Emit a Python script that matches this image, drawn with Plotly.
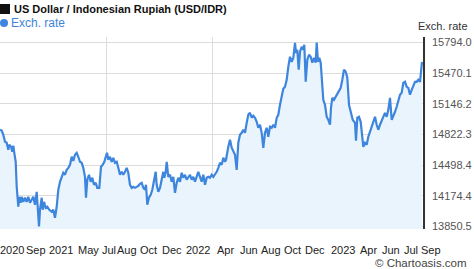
import plotly.graph_objects as go

# time position (chart time units, 0 = start of period, 423 = end) and USD/IDR rate
t = [0, 1.7, 3.3, 5, 6.7, 8.3, 9.3, 11, 12.3, 13.3, 14.3, 15.7, 16.7, 17.3, 18.3, 19.3, 20.7, 21.7, 23.3, 25,
     26.7, 28.3, 30, 31.7, 33.3, 35, 36.7, 37.7, 39, 40, 41.7, 42.7, 44, 45.7, 47.3, 49.3, 51.7, 53.3, 55, 56.7,
     58.3, 60, 61.7, 63.3, 65, 66.7, 68.3, 70, 71.7, 73.3, 75, 76.7, 78.3, 80, 81.7, 83.3, 85, 86, 87.3, 89,
     90.7, 92.3, 94, 95.7, 97.3, 99.3, 101, 102.7, 104.3, 106, 107, 108.3, 110, 111.7, 113.3, 115, 116.7, 118.3, 120, 121.7,
     123.3, 125, 126.7, 128.3, 130, 131.7, 133.3, 135, 136.7, 138.3, 140, 141.7, 143.3, 145, 146, 147.3, 149, 150.7, 152.3, 154,
     155.7, 156.7, 158.3, 160, 161.7, 163.3, 164.3, 165.7, 166.7, 168.3, 170, 171.7, 173.3, 175, 176.7, 178.3, 180, 181.7, 183.3, 185,
     186.7, 188.3, 190, 191.7, 193.3, 195, 196.7, 198.3, 200, 201.7, 203.3, 205, 206.7, 208.3, 210, 211.7, 213.3, 215, 216.7, 218.3,
     220, 221.7, 223.3, 225, 226, 228.3, 230, 231.7, 233.3, 235, 236.7, 238.3, 240, 241.7, 243.3, 245, 246.7, 248.3, 250, 251.7,
     253.3, 255, 256.7, 258.3, 260, 261.7, 263.3, 265, 266.7, 268.3, 270, 271.7, 273.3, 275, 276.7, 278.3, 280, 281.7, 283.3, 285,
     286.7, 288.3, 290, 291.7, 293.3, 295, 296, 297.3, 298.7, 300, 301.7, 303.3, 304.3, 305.7, 307.3, 309, 310.7, 312.3, 314, 315.7,
     316.7, 318, 319.3, 320.7, 322, 323.3, 325, 326.7, 328.3, 330, 331, 332.3, 334, 335.7, 337.3, 339, 340.7, 342.3, 344, 345.7,
     347.3, 349, 350.7, 352.7, 355, 356, 357.3, 359, 360.7, 362.3, 363.3, 365, 366.7, 368.3, 370, 371.7, 373.3, 375, 376.7, 378.3,
     380, 381.7, 383.3, 385, 386.7, 388.3, 390, 391.7, 393.3, 395, 396.7, 398.3, 400, 401.7, 403.3, 405, 406.7, 408.3, 410, 411.7,
     413.3, 415, 416.7, 418.3, 420, 421, 422]

rate = [14872, 14864, 14819, 14745, 14735, 14661, 14713, 14692, 14640, 14703, 14629, 14534, 14270, 14133, 14059, 14164, 14101, 14164, 14111, 14154,
        14111, 14164, 14101, 14133, 14164, 14080, 14217, 14059, 13851, 14027, 14154, 14027, 14111, 14048, 14059, 14027, 14006, 14027, 13942, 14059,
        14238, 14323, 14365, 14418, 14397, 14449, 14470, 14502, 14587, 14544, 14608, 14629, 14587, 14534, 14523, 14470, 14375, 14154, 14344, 14397,
        14323, 14365, 14291, 14312, 14259, 14259, 14481, 14502, 14534, 14587, 14629, 14555, 14587, 14534, 14576, 14523, 14534, 14470, 14397, 14428,
        14397, 14428, 14470, 14418, 14291, 14259, 14270, 14259, 14270, 14280, 14301, 14312, 14259, 14238, 14291, 14080, 14154, 14185, 14238, 14323,
        14428, 14291, 14217, 14259, 14344, 14428, 14365, 14428, 14534, 14375, 14397, 14323, 14375, 14206, 14312, 14365, 14323, 14418, 14365, 14397,
        14344, 14375, 14397, 14344, 14375, 14323, 14375, 14428, 14375, 14323, 14397, 14291, 14365, 14375, 14365, 14397, 14375, 14397, 14428, 14470,
        14523, 14502, 14576, 14534, 14555, 14692, 14766, 14682, 14640, 14608, 14449, 14735, 14819, 14840, 14872, 14840, 14946, 15030, 15051, 14999,
        15020, 14999, 14956, 14893, 14925, 14840, 14682, 14840, 14893, 14798, 14904, 14893, 14925, 14893, 14999, 15030, 15136, 15220, 15305, 15326,
        15400, 15537, 15643, 15590, 15632, 15791, 15685, 15717, 15506, 15696, 15749, 15717, 15770, 15379, 15611, 15664, 15643, 15580, 15632, 15580,
        15794, 15590, 15632, 15580, 15400, 15189, 15136, 15009, 14977, 14925, 15104, 15210, 15189, 15220, 15242, 15273, 15315, 15400, 15506, 15485,
        15421, 15136, 15062, 14977, 14946, 14756, 14999, 15009, 14956, 14798, 14692, 14735, 14713, 14798, 14851, 14904, 14956, 15009, 14925, 14872,
        14925, 14977, 15009, 15051, 15009, 15083, 15210, 14977, 15030, 15062, 15115, 15168, 15242, 15263, 15368, 15379, 15326, 15315, 15242, 15294,
        15347, 15379, 15379, 15400, 15379, 15506, 15590]

y_ticks = [13850.5, 14174.4, 14498.4, 14822.3, 15146.2, 15470.1, 15794.0]
y_tick_text = ["13850.5", "14174.4", "14498.4", "14822.3", "15146.2", "15470.1", "15794.0"]

x_labels = ["2020", "Sep", "2021", "May", "Jul", "Aug", "Oct", "Dec", "2022", "Apr",
            "Jun", "Aug", "Oct", "Dec", "2023", "Apr", "Jun", "Jul", "Sep"]
x_label_pos = [12.3, 36, 61, 88.5, 109, 126.5, 148.5, 171.5, 197.5, 225.5,
               248.5, 270.5, 292.5, 315, 343, 368.5, 391, 410.5, 430.5]
x_grid = [0, 106, 212]

LINE = "#3d85dd"
FILL = "#eaf4fd"
FONT = "Liberation Sans, Arial, sans-serif"
X_END = 423
W, H = 474, 269
MT, MB = 37, 40

fig = go.Figure()
fig.add_trace(go.Scatter(
    x=t, y=rate, mode="lines",
    line=dict(color=LINE, width=2.2),
    fill="tozeroy", fillcolor=FILL,
    hoverinfo="skip", showlegend=False,
))

fig.update_layout(
    width=W, height=H,
    margin=dict(l=0, r=W - X_END, t=MT, b=MB),
    paper_bgcolor="white", plot_bgcolor="white",
    font=dict(family=FONT, size=11, color="#333"),
    xaxis=dict(
        range=[0, X_END], showgrid=True, gridcolor="#dcdcdc", gridwidth=1,
        tickvals=x_grid, showticklabels=False, ticks="", zeroline=False,
        showline=False, fixedrange=True,
    ),
    yaxis=dict(
        range=[13824, 15852], side="right",
        tickvals=y_ticks, ticktext=y_tick_text,
        showgrid=True, gridcolor="#dcdcdc", gridwidth=1,
        showline=True, linecolor="#333", linewidth=1.5, mirror=False,
        ticks="", tickfont=dict(size=11, color="#555"), zeroline=False,
        ticklabelstandoff=5,
    ),
)

plot_h = H - MT - MB


def py(ypx):
    return (H - MB - ypx) / plot_h


def px(xpx):
    return xpx / X_END


annotations = []
for lab, pos in zip(x_labels, x_label_pos):
    annotations.append(dict(
        x=px(pos), y=py(250), xref="paper", yref="paper", text=lab,
        showarrow=False, xanchor="center", yanchor="middle",
        font=dict(size=11, color="#222"),
    ))

annotations += [
    dict(x=px(12), y=py(9), xref="paper", yref="paper", xanchor="left", yanchor="middle",
         text="<b>US Dollar / Indonesian Rupiah (USD/IDR)</b>", showarrow=False,
         font=dict(size=11, color="#111")),
    dict(x=px(9), y=py(23), xref="paper", yref="paper", xanchor="left", yanchor="middle",
         text="Exch. rate", showarrow=False, font=dict(size=12, color=LINE)),
    dict(x=px(470), y=py(26), xref="paper", yref="paper", xanchor="right", yanchor="middle",
         text="Exch. rate", showarrow=False, font=dict(size=11, color="#333")),
    dict(x=px(469), y=py(263), xref="paper", yref="paper", xanchor="right", yanchor="middle",
         text="© Chartoasis.com", showarrow=False, font=dict(size=11.5, color="#444")),
]
fig.update_layout(annotations=annotations)

# black legend square before the title
fig.add_shape(type="rect", xref="paper", yref="paper",
              x0=px(0), x1=px(10), y0=py(14), y1=py(4),
              fillcolor="#111", line=dict(width=0))
# blue legend dot
fig.add_shape(type="circle", xref="paper", yref="paper",
              x0=px(0), x1=px(8), y0=py(27), y1=py(19),
              fillcolor=LINE, line=dict(width=0))

fig.write_html("out.html")
